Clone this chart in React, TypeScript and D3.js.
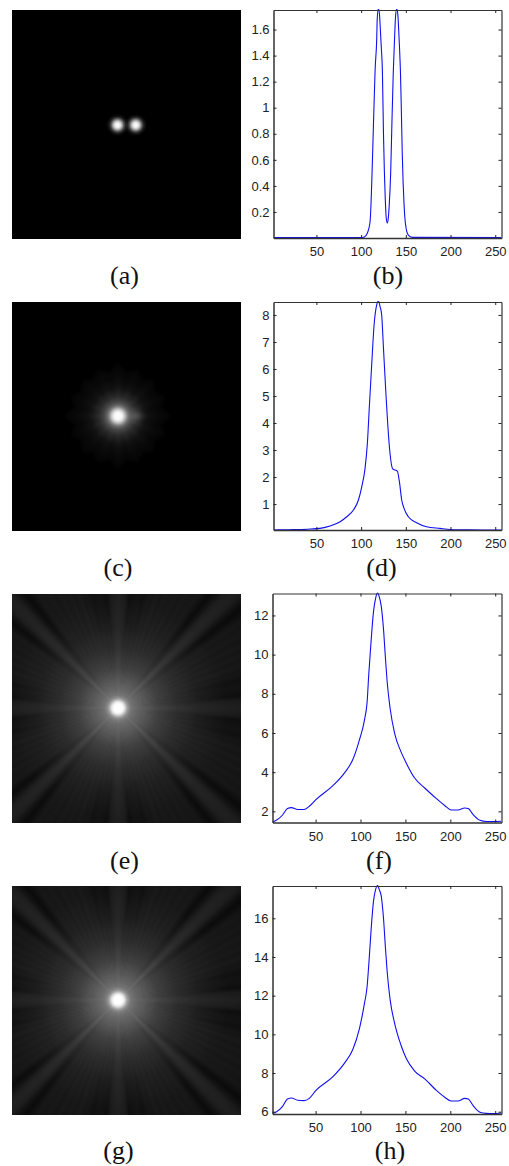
// App.tsx
import React, { useEffect, useMemo, useRef } from 'react';
import * as d3 from 'd3';

// profile curves
const xB = [2, 100, 104, 106.5, 108.5, 110, 111, 112, 113, 114, 115, 115.6, 117.5, 118, 119.3, 120.5, 121.5, 122.5, 123.8, 125, 126, 127, 128, 129.3, 130.5, 131.5, 133.1, 134.5, 136, 137.5, 138.5, 139.8, 141, 142, 143, 144, 145, 146, 147, 148, 149, 150, 151, 153, 157, 257];
const yB = [0.003, 0.003, 0.01, 0.03, 0.07, 0.125, 0.25, 0.45, 0.68, 0.92, 1.15, 1.28, 1.54, 1.68, 1.76, 1.72, 1.6, 1.47, 1.28, 0.8, 0.51, 0.3, 0.16, 0.115, 0.16, 0.26, 0.51, 0.9, 1.28, 1.55, 1.7, 1.76, 1.72, 1.6, 1.45, 1.27, 0.98, 0.65, 0.42, 0.26, 0.15, 0.09, 0.05, 0.02, 0.005, 0.003];

const xD = [2, 20, 40, 54, 65.3, 76.5, 83.9, 91.4, 97, 100.7, 104.4, 107, 109.2, 111.9, 114.5, 117.4, 119.3, 121.2, 123, 124.9, 127.5, 129.7, 132.3, 135.3, 140.5, 142.8, 145.4, 148, 152.8, 162.1, 173.3, 188.2, 200, 220, 257];
const yD = [0.04, 0.05, 0.07, 0.1, 0.185, 0.346, 0.53, 0.78, 1.15, 1.64, 2.32, 3.25, 4.6, 6.2, 7.63, 8.37, 8.52, 8.31, 8.0, 6.83, 5.22, 3.99, 2.88, 2.3, 2.22, 1.83, 1.15, 0.84, 0.53, 0.31, 0.16, 0.1, 0.06, 0.045, 0.04];

const xF = [2, 5.7, 13, 18.7, 23, 30, 37, 43, 50.4, 69, 82, 91.3, 98.8, 104.4, 107.4, 109.2, 111.8, 114.4, 116.7, 118.9, 121, 123, 125.6, 127.8, 129.7, 133, 138, 145, 151, 160.3, 171.5, 184.5, 193.7, 201, 208.6, 216, 220, 225.4, 233, 240, 248, 257];
const yF = [1.46, 1.53, 1.8, 2.14, 2.19, 2.09, 2.09, 2.26, 2.6, 3.3, 3.95, 4.63, 5.65, 6.66, 7.6, 9, 10.7, 12.17, 12.85, 13.15, 12.93, 12.5, 11.3, 9.8, 8.6, 7.25, 5.98, 5.05, 4.46, 3.7, 3.19, 2.65, 2.3, 2.07, 2.07, 2.17, 2.14, 1.83, 1.54, 1.48, 1.48, 1.49];
const yH = [5.9, 5.97, 6.26, 6.66, 6.71, 6.59, 6.57, 6.69, 7.1, 7.8, 8.5, 9.2, 10.3, 11.6, 12.5, 13.6, 15.4, 16.86, 17.47, 17.7, 17.47, 17.17, 16, 14.45, 13.24, 11.78, 10.57, 9.45, 8.75, 8.1, 7.7, 7.1, 6.75, 6.55, 6.55, 6.69, 6.66, 6.31, 5.97, 5.91, 5.9, 5.93];

// tick labels
const xTicks = [50, 100, 150, 200, 250];
const ticksB = [0.2, 0.4, 0.6, 0.8, 1, 1.2, 1.4, 1.6];
const ticksD = [1, 2, 3, 4, 5, 6, 7, 8];
const ticksF = [2, 4, 6, 8, 10, 12];
const ticksH = [6, 8, 10, 12, 14, 16];

// grey levels of the image panels against distance from the bright spot
const spotR = [0, 2.5, 4.5, 6.5, 8.5, 11];
const spotGrey = [255, 240, 175, 80, 22, 0];
const haloR = [0, 4, 7, 9, 11, 14, 20, 30, 40, 50, 53, 55];
const haloGrey = [255, 248, 190, 135, 98, 70, 42, 18, 10, 6, 4, 0];
const sideR = [0, 3, 6, 10];
const sideGrey = [32, 24, 9, 0];
const starAngle = [0, 11, 22.5, 34, 45];
const starEdge = [55, 46, 52, 46, 52];
const rayR = [0, 4, 6, 8, 10, 13, 18, 25, 40, 60, 80, 110, 160];
const rayGrey = [255, 255, 240, 190, 145, 118, 104, 92, 66, 46, 35, 28, 23];
const rayAngle = [0, 2.5, 5, 7, 9, 11, 13, 15, 17, 19, 21, 23, 25, 27, 29, 31, 33, 35, 37, 39, 41.5, 43, 45];
const rayWeight = [1.16, 1.08, 0.88, 0.98, 0.86, 1.0, 0.87, 1.03, 0.9, 1.04, 0.88, 1.03, 0.9, 1.04, 0.88, 1.02, 0.92, 1.0, 0.88, 0.8, 0.95, 1.2, 1.32];
const rayAmpR = [0, 30, 70, 120, 165];
const rayAmp = [0, 0.3, 0.75, 1, 1.1];
const edgeAngle = [0, 4, 6, 9, 12, 18, 36, 39, 42, 45];
const edgeWeight = [1, 0.95, 0.55, 0.78, 0.65, 0.9, 0.9, 0.55, 1, 1];
const edgeR = [70, 110];
const edgeAmp = [0, 1];

const plots = [
  { x: xB, y: yB, ticks: ticksB, domain: [0, 1.75], left: 273.5, top: 10, bottom: 238 },
  { x: xD, y: yD, ticks: ticksD, domain: [0.04, 8.48], left: 273.5, top: 302, bottom: 530 },
  { x: xF, y: yF, ticks: ticksF, domain: [1.43, 13.12], left: 272.5, top: 593.5, bottom: 822.5 },
  { x: xF, y: yH, ticks: ticksH, domain: [5.88, 17.67], left: 272.5, top: 886, bottom: 1114 },
];

const captions = [
  { text: '(a)', x: 124.5, y: 284 },
  { text: '(b)', x: 388, y: 284 },
  { text: '(c)', x: 118, y: 576 },
  { text: '(d)', x: 381.5, y: 576 },
  { text: '(e)', x: 124.5, y: 869 },
  { text: '(f)', x: 379, y: 869 },
  { text: '(g)', x: 118.5, y: 1159 },
  { text: '(h)', x: 390, y: 1159 },
];

const IMG_SIZE = 229;
const GRID = 128;
const CX = 106;

const spot = d3.scaleLinear(spotR, spotGrey).clamp(true);
const halo = d3.scaleLinear(haloR, haloGrey).clamp(true);
const side = d3.scaleLinear(sideR, sideGrey).clamp(true);
const star = d3.scaleLinear(starAngle, starEdge);
const rayBase = d3.scaleLinear(rayR, rayGrey).clamp(true);
const rayMod = d3.scaleLinear(rayAngle, rayWeight);
const rayStrength = d3.scaleLinear(rayAmpR, rayAmp).clamp(true);
const edgeMod = d3.scaleLinear(edgeAngle, edgeWeight);
const edgeStrength = d3.scaleLinear(edgeR, edgeAmp).clamp(true);

// folds a direction into the first 45 degrees, the patterns repeat that way
const fold = (dx: number, dy: number) => {
  const a = ((Math.atan2(dy, dx) * 180) / Math.PI + 360) % 90;
  return Math.min(a, 90 - a);
};

const fieldA = (x: number, y: number) =>
  spot(Math.hypot(x - 105.5, y - 115)) + spot(Math.hypot(x - 123.7, y - 115));

const fieldC = (x: number, y: number) => {
  const dx = x - CX, dy = y - 114;
  const r = Math.hypot(dx, dy);
  const g = r > 14 ? halo(14 + ((r - 14) * (55 - 14)) / (star(fold(dx, dy)) - 14)) : halo(r);
  return g + side(Math.hypot(x - 124.5, y - 114));
};

const fieldE = (x: number, y: number) => {
  const dx = x - CX, dy = y - 114;
  const r = Math.hypot(dx, dy);
  const a = fold(dx, dy);
  const spokes = 1 + (rayMod(a) - 1) * rayStrength(r);
  const edges = 1 + (edgeMod(a) - 1) * edgeStrength(r);
  return rayBase(r) * spokes * edges;
};

const paint = (field: (x: number, y: number) => number) => {
  const canvas = document.createElement('canvas');
  canvas.width = GRID;
  canvas.height = GRID;
  const ctx = canvas.getContext('2d');
  const img = ctx.createImageData(GRID, GRID);
  const toPx = d3.scaleLinear([0, GRID], [0, IMG_SIZE]);
  for (let j = 0; j < GRID; j++) {
    for (let i = 0; i < GRID; i++) {
      const g = Math.min(255, field(toPx(i + 0.5), toPx(j + 0.5)));
      const k = (j * GRID + i) * 4;
      img.data[k] = img.data[k + 1] = img.data[k + 2] = g;
      img.data[k + 3] = 255;
    }
  }
  ctx.putImageData(img, 0, 0);
  return canvas.toDataURL();
};

const Plot = ({ plot, index }: any) => {
  const ref = useRef<SVGGElement>(null);

  useEffect(() => {
    const g = d3.select(ref.current);
    g.selectAll('*').remove();
    const xScale = d3.scaleLinear([2, 257], [plot.left, 501.5]);
    const yScale = d3.scaleLinear(plot.domain, [plot.bottom, plot.top]);

    const line = d3.line<number>()
      .x((d, i) => xScale(plot.x[i]))
      .y(d => yScale(d))
      .curve(d3.curveMonotoneX);

    const clipId = `clip-${index}`;
    g.append('clipPath').attr('id', clipId)
      .append('rect')
      .attr('x', plot.left).attr('y', plot.top - 1)
      .attr('width', 501.5 - plot.left).attr('height', plot.bottom - plot.top + 1);

    g.append('path')
      .attr('clip-path', `url(#${clipId})`)
      .attr('d', line(plot.y))
      .attr('fill', 'none')
      .attr('stroke', '#1010f0')
      .attr('stroke-width', 1.1);

    const axes = [
      d3.axisBottom(xScale).tickValues(xTicks).tickSizeInner(-3).tickSizeOuter(0).tickPadding(9),
      d3.axisTop(xScale).tickValues(xTicks).tickSizeInner(-3).tickSizeOuter(0).tickFormat(() => ''),
      d3.axisLeft(yScale).tickValues(plot.ticks).tickSizeInner(-3).tickSizeOuter(0).tickPadding(4).tickFormat(d => String(d)),
      d3.axisRight(yScale).tickValues(plot.ticks).tickSizeInner(-3).tickSizeOuter(0).tickFormat(() => ''),
    ];
    const offsets = [
      [0, plot.bottom],
      [0, plot.top],
      [plot.left, 0],
      [501.5, 0],
    ];
    axes.forEach((axis, i) => {
      const a = g.append('g')
        .attr('transform', `translate(${offsets[i][0]},${offsets[i][1]})`)
        .call(axis as any);
      a.selectAll('.domain').attr('stroke', '#333').attr('stroke-width', i === 0 || i === 2 ? 1.5 : 1.2);
      a.selectAll('line').attr('stroke', '#222');
      a.selectAll('text')
        .attr('font-family', '"Liberation Sans", Arial, sans-serif')
        .attr('font-size', 13)
        .attr('fill', '#222');
    });
  }, [plot, index]);

  return <g ref={ref} />;
};

const App = () => {
  const images = useMemo(() => [
    { href: paint(fieldA), y: 10 },
    { href: paint(fieldC), y: 302 },
    { href: paint(fieldE), y: 594 },
    { href: paint(fieldE), y: 886 },
  ], []);

  return (
    <svg width={509} height={1166} style={{ position: 'absolute', left: 0, top: 0, background: '#fff' }}>
      {images.map((im, i) => (
        <image key={i} href={im.href} x={12} y={im.y} width={IMG_SIZE} height={IMG_SIZE} preserveAspectRatio="none" />
      ))}
      {plots.map((p, i) => <Plot key={i} plot={p} index={i} />)}
      {captions.map(c => (
        <text key={c.text} x={c.x} y={c.y} textAnchor="middle" fontFamily='"Liberation Serif", serif' fontSize={26} fill="#111">
          {c.text}
        </text>
      ))}
    </svg>
  );
};

export default App;
